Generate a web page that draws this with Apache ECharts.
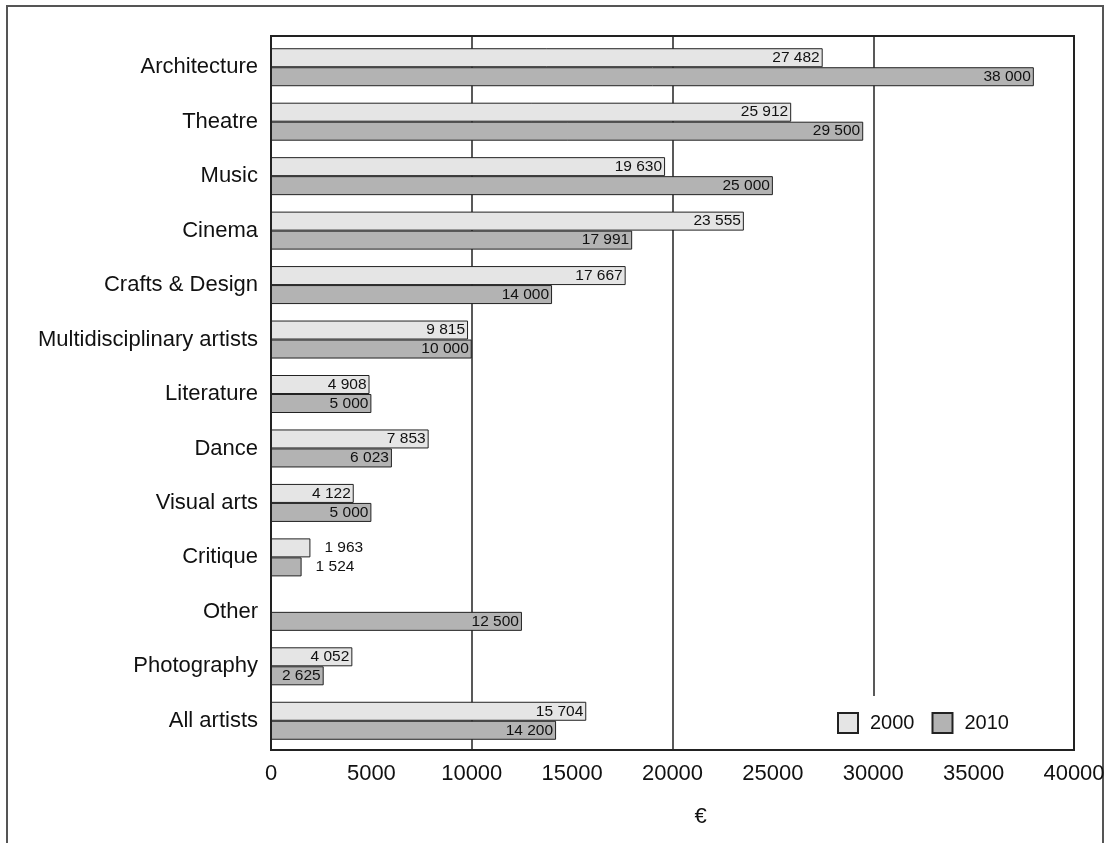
<!DOCTYPE html>
<html>
<head>
<meta charset="utf-8">
<script src="https://cdn.jsdelivr.net/npm/echarts@6/dist/echarts.min.js"></script>
<style>
  html, body { margin: 0; padding: 0; background: #fff; }
  #chart { width: 1110px; height: 843px; }
</style>
</head>
<body>
<div id="chart"></div>
<script>
// categories from top to bottom
var categories = ['Architecture', 'Theatre', 'Music', 'Cinema', 'Crafts & Design',
  'Multidisciplinary artists', 'Literature', 'Dance', 'Visual arts', 'Critique',
  'Other', 'Photography', 'All artists']
var values2000 = [27482, 25912, 19630, 23555, 17667, 9815, 4908, 7853, 4122, 1963, null, 4052, 15704]
var values2010 = [38000, 29500, 25000, 17991, 14000, 10000, 5000, 6023, 5000, 1524, 12500, 2625, 14200]
var xTicks = [0, 5000, 10000, 15000, 20000, 25000, 30000, 35000, 40000]

var FONT = '"Liberation Sans Narrow", "Liberation Sans", Arial, sans-serif'

function fmt(v) {
  return String(v).replace(/\B(?=(\d{3})+(?!\d))/g, ' ')
}

// small bars get their label outside, like Critique
function buildData(arr) {
  return arr.map(function(v) {
    if (v === null) return '-'
    if (v < 2000) {
      return { value: v, label: { position: 'right', distance: 14 } }
    }
    return v
  })
}

function barSeries(name, arr, color) {
  return {
    name: name,
    type: 'bar',
    xAxisIndex: 0,
    yAxisIndex: 0,
    barWidth: 19,
    barGap: '0%',
    data: buildData(arr),
    itemStyle: {
      color: color,
      borderColor: '#222',
      borderWidth: 1
    },
    label: {
      show: true,
      position: 'insideRight',
      distance: 3,
      color: '#111',
      fontFamily: FONT,
      fontSize: 15.5,
      formatter: function(p) { return fmt(p.value) }
    },
    animation: false
  }
}

var chart = echarts.init(document.getElementById('chart'))
chart.setOption({
  backgroundColor: '#fff',
  graphic: [{
    // outer frame
    type: 'rect',
    shape: { x: 7, y: 6, width: 1096, height: 900 },
    style: { fill: 'none', stroke: '#555', lineWidth: 2 },
    silent: true
  }, {
    // plot box
    type: 'rect',
    shape: { x: 271, y: 36, width: 803, height: 714 },
    style: { fill: 'none', stroke: '#222', lineWidth: 2 },
    silent: true,
    z: 10
  }],
  grid: [{
    left: 271,
    top: 40,
    right: 36,
    bottom: 95
  }, {
    // full plot box, only for the gridlines
    left: 271,
    top: 36,
    right: 36,
    bottom: 93
  }],
  legend: {
    left: 797,
    top: 696,
    padding: [16, 60, 16, 40],
    backgroundColor: '#fff',
    icon: 'rect',
    itemWidth: 20,
    itemHeight: 20,
    itemGap: 17,
    textStyle: { fontFamily: FONT, fontSize: 20, color: '#111', padding: [0, 0, 0, 7] },
    data: ['2000', '2010']
  },
  xAxis: [{
    gridIndex: 0,
    type: 'value',
    min: 0,
    max: 40000,
    interval: 5000,
    position: 'bottom',
    name: '€',
    nameLocation: 'middle',
    nameGap: 58,
    nameTextStyle: { fontFamily: FONT, fontSize: 22, color: '#111', padding: [0, 0, 0, 56] },
    axisLine: { show: false },
    axisTick: { show: false },
    splitLine: { show: false },
    axisLabel: {
      margin: 15,
      fontFamily: FONT,
      fontSize: 22,
      color: '#111',
      formatter: function(v) { return xTicks.indexOf(v) >= 0 ? String(v) : '' }
    }
  }, {
    // only the 10000 step gets a gridline
    gridIndex: 1,
    type: 'value',
    min: 0,
    max: 40000,
    interval: 10000,
    position: 'bottom',
    axisLine: { show: false },
    axisTick: { show: false },
    axisLabel: { show: false },
    splitLine: { show: true, lineStyle: { color: '#222', width: 1.5 } }
  }],
  yAxis: [{
    gridIndex: 0,
    type: 'category',
    inverse: true,
    data: categories,
    axisLine: { show: false },
    axisTick: { show: false },
    axisLabel: {
      margin: 13,
      fontFamily: FONT,
      fontSize: 22,
      color: '#111'
    }
  }, {
    gridIndex: 1,
    type: 'value',
    show: false
  }],
  series: [
    barSeries('2000', values2000, '#e5e5e5'),
    barSeries('2010', values2010, '#b3b3b3')
  ]
})
</script>
</body>
</html>
